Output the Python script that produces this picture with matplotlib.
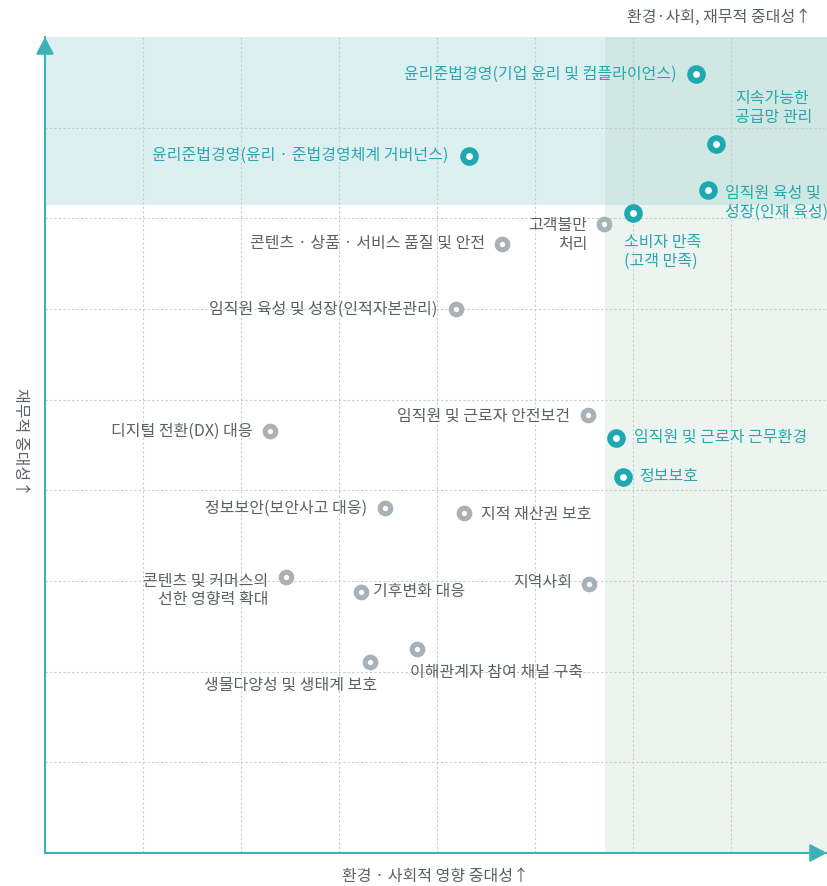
import matplotlib
matplotlib.use("Agg")
import matplotlib.pyplot as plt

plt.rcParams['font.family'] = ['Noto Sans CJK KR', 'DejaVu Sans']

# ---------------- data ----------------
issues = [
    "윤리준법경영(기업 윤리 및 컴플라이언스)",
    "지속가능한\n공급망 관리",
    "윤리준법경영(윤리 · 준법경영체계 거버넌스)",
    "임직원 육성 및\n성장(인재 육성)",
    "소비자 만족\n(고객 만족)",
    "고객불만\n처리",
    "콘텐츠 · 상품 · 서비스 품질 및 안전",
    "임직원 육성 및 성장(인적자본관리)",
    "임직원 및 근로자 안전보건",
    "디지털 전환(DX) 대응",
    "임직원 및 근로자 근무환경",
    "정보보호",
    "정보보안(보안사고 대응)",
    "지적 재산권 보호",
    "콘텐츠 및 커머스의\n선한 영향력 확대",
    "기후변화 대응",
    "지역사회",
    "이해관계자 참여 채널 구축",
    "생물다양성 및 생태계 보호",
]
impact = [6.64, 6.85, 4.33, 6.77, 6.00, 5.70, 4.66, 4.19, 5.54, 2.30,
          5.83, 5.90, 3.47, 4.28, 2.46, 3.22, 5.55, 3.80, 3.32]
financial = [8.59, 7.82, 7.69, 7.31, 7.06, 6.94, 6.72, 6.00, 4.83, 4.65,
             4.58, 4.15, 3.80, 3.75, 3.04, 2.88, 2.97, 2.25, 2.11]
material = [True, True, True, True, True, False, False, False, False, False,
            True, True, False, False, False, False, False, False, False]

x_title = "환경 · 사회적 영향 중대성↑"
y_title = "재무적 중대성↑"
corner_title = "환경·사회, 재무적 중대성↑"

# ---------------- styles ----------------
# label offsets in pixels (dx right, dy down) and horizontal alignment
label_pos = [
    (-19, 0, 'right'), (19, -36, 'left'), (-21, 0, 'right'), (17, 13, 'left'),
    (-9, 39, 'left'), (-16, 11, 'right'), (-17, 0, 'right'), (-18, 0, 'right'),
    (-18, 1, 'right'), (-18, 0, 'right'), (18, 0, 'left'), (16, 0, 'left'),
    (-18, 0, 'right'), (17, 1, 'left'), (-18, 13, 'right'), (12, 0, 'left'),
    (-17, -1, 'right'), (-7, 24, 'left'), (7, 24, 'right'),
]

TEAL = '#1fa8b0'
TEAL_TXT = '#2aa7ae'
GRAY = '#a7b1b7'
GRAY_TXT = '#5b6167'
AXIS = '#3cb2b8'
GRID = '#c9cbcc'
TOP_BAND = '#dcf0f1'
RIGHT_BAND = '#ebf4ef'
OVERLAP = '#cfe8e3'

W, H = 827, 886
fig = plt.figure(figsize=(W / 100, H / 100), dpi=100)
x0, x1, y0, y1 = 45, 827, 853, 37
ax = fig.add_axes([x0 / W, (H - y0) / H, (x1 - x0) / W, (y0 - y1) / H])
xmax = (x1 - x0) / 98.0
ymax = 9.0
ax.set_xlim(0, xmax)
ax.set_ylim(0, ymax)

band_y = 7.15
band_x = 5.71
ax.axhspan(band_y, ymax, xmin=0, xmax=band_x / xmax, color=TOP_BAND, lw=0, zorder=0)
ax.axvspan(band_x, xmax, ymin=0, ymax=band_y / ymax, color=RIGHT_BAND, lw=0, zorder=0)
ax.axvspan(band_x, xmax, ymin=band_y / ymax, ymax=1, color=OVERLAP, lw=0, zorder=0)

for gx in range(1, 8):
    ax.axvline(gx, color=GRID, lw=0.8, ls=(0, (2, 2)), zorder=1)
for gy in range(1, 9):
    ax.axhline(gy, color=GRID, lw=0.8, ls=(0, (2, 2)), zorder=1)

for s in ['top', 'right']:
    ax.spines[s].set_visible(False)
for s in ['left', 'bottom']:
    ax.spines[s].set_color(AXIS)
    ax.spines[s].set_linewidth(1.5)
    ax.spines[s].set_zorder(3)
ax.set_xticks([])
ax.set_yticks([])

# arrow heads
arrow_style = '-|>,head_length=0.95,head_width=0.5'
ax.annotate('', xy=(0, 1.0), xytext=(0, 0.97), xycoords='axes fraction',
            arrowprops=dict(arrowstyle=arrow_style, color=AXIS, lw=1.5,
                            mutation_scale=11, shrinkA=0, shrinkB=0),
            annotation_clip=False)
ax.annotate('', xy=(1.0, 0), xytext=(0.97, 0), xycoords='axes fraction',
            arrowprops=dict(arrowstyle=arrow_style, color=AXIS, lw=1.5,
                            mutation_scale=11, shrinkA=0, shrinkB=0),
            annotation_clip=False)

FS = 11.5
for name, xv, yv, m, (dx, dy, ha) in zip(issues, impact, financial, material, label_pos):
    if m:
        ax.plot(xv, yv, 'o', ms=9.2, mfc='white', mec=TEAL, mew=4.2, zorder=5)
        col = TEAL_TXT
    else:
        ax.plot(xv, yv, 'o', ms=7.6, mfc='white', mec=GRAY, mew=3.7, zorder=5)
        col = GRAY_TXT
    ax.annotate(name, (xv, yv), xytext=(dx, -dy), textcoords='offset pixels',
                ha=ha, va='center', fontsize=FS, color=col, linespacing=1.15,
                multialignment=ha, zorder=6)

fig.text(435 / W, 1 - 876 / H, x_title, ha='center', va='center',
         fontsize=FS, color=GRAY_TXT)
fig.text(20 / W, 1 - 442 / H, y_title, ha='center', va='center',
         fontsize=FS, color=GRAY_TXT, rotation=270)
fig.text(811 / W, 1 - 17 / H, corner_title, ha='right', va='center',
         fontsize=FS, color=GRAY_TXT)

fig.savefig('out.png', dpi=100)
